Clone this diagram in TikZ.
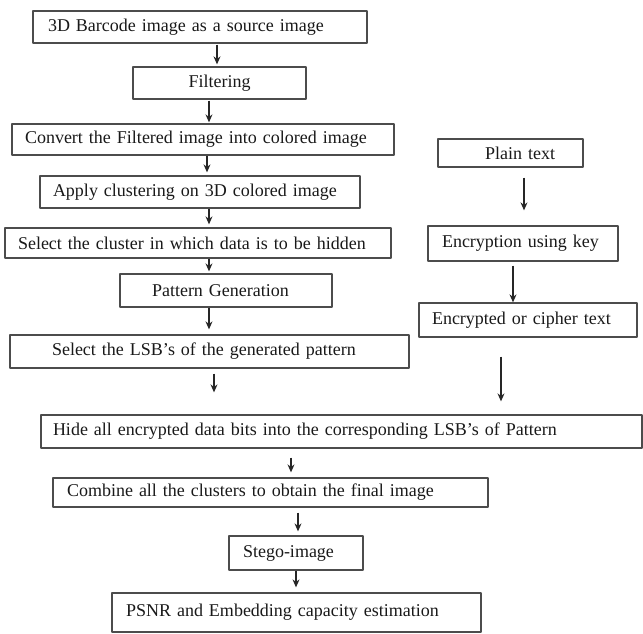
\documentclass[tikz,border=0pt]{standalone}
\usepackage{fontspec}
\setmainfont{Liberation Serif}
\usetikzlibrary{arrows.meta}
\begin{document}
\begin{tikzpicture}[x=1pt,y=-1pt,>={Stealth[length=8pt,width=7pt]}, line join=round,
	font=\fontsize{18}{21}\selectfont,
	box/.style={draw=black!70, line width=1.3pt, inner ysep=0pt, align=left, text=black!90},
	arr/.style={->, line width=1.1pt, black!85}]
	\useasboundingbox (0,0) rectangle (643,634);
	%Left column
	\node[box, text width=304, inner xsep=15, minimum height=32] (src) at (200,27) {3D Barcode image as a source image};
	\node[box, text width=133, inner xsep=20, minimum height=32, align=center] (filt) at (219.5,83) {Filtering};
	\node[box, text width=356, inner xsep=13, minimum height=31] (conv) at (203,139.5) {Convert the Filtered image into colored image};
	\node[box, text width=294, inner xsep=13, minimum height=32] (clus) at (200,192) {Apply clustering on 3D colored image};
	\node[box, text width=360, inner xsep=13, minimum height=30] (sel) at (198,243) {Select the cluster in which data is to be hidden};
	\node[box, text width=148, inner xsep=32, minimum height=33] (pat) at (226,290.5) {Pattern Generation};
	\node[box, text width=315, inner xsep=42, minimum height=33] (lsb) at (209.5,351.5) {Select the LSB's of the generated pattern};
	%Right column
	\node[box, text width=89, inner xsep=28, minimum height=28, align=right] (plain) at (510.5,153) {Plain text};
	\node[box, text width=162, inner xsep=14, minimum height=35] (enc) at (523,243.5) {Encryption using key};
	\node[box, text width=192, inner xsep=13, minimum height=34] (ciph) at (528,320) {Encrypted or cipher text};
	%Bottom
	\node[box, text width=577, inner xsep=12, minimum height=33] (hide) at (341.5,431.5) {Hide all encrypted data bits into the corresponding LSB's of Pattern};
	\node[box, text width=407, inner xsep=14, minimum height=29] (comb) at (270.5,492.5) {Combine all the clusters to obtain the final image};
	\node[box, text width=106, inner xsep=14, minimum height=34] (stego) at (296,553) {Stego-image};
	\node[box, text width=341, inner xsep=14, minimum height=39] (psnr) at (296.5,612.5) {PSNR and Embedding capacity estimation};
	%Arrows
	\draw[arr, shorten <=1pt, shorten >=2pt] (src.south -| 217,0) -- (filt.north -| 217,0);
	\draw[arr, shorten <=1pt, shorten >=1pt] (filt.south -| 209,0) -- (conv.north -| 209,0);
	\draw[arr, shorten >=3pt] (conv.south -| 207,0) -- (clus.north -| 207,0);
	\draw[arr, shorten >=3pt] (clus.south -| 209,0) -- (sel.north -| 209,0);
	\draw[arr, shorten >=2pt] (sel.south -| 209,0) -- (pat.north -| 209,0);
	\draw[arr, shorten >=5pt] (pat.south -| 209,0) -- (lsb.north -| 209,0);
	\draw[arr, shorten <=5pt, shorten >=22pt] (lsb.south -| 214,0) -- (hide.north -| 214,0);
	\draw[arr, shorten <=10pt, shorten >=15pt] (plain.south -| 524,0) -- (enc.north -| 524,0);
	\draw[arr, shorten <=4pt] (enc.south -| 513,0) -- (ciph.north -| 513,0);
	\draw[arr, shorten <=19pt, shorten >=13pt] (ciph.south -| 501,0) -- (hide.north -| 501,0);
	\draw[arr, shorten <=9pt, shorten >=5pt] (hide.south -| 291,0) -- (comb.north -| 291,0);
	\draw[arr, shorten <=5pt, shorten >=4pt] (comb.south -| 298,0) -- (stego.north -| 298,0);
	\draw[arr, shorten >=5pt] (stego.south -| 296,0) -- (psnr.north -| 296,0);
\end{tikzpicture}
\end{document}
